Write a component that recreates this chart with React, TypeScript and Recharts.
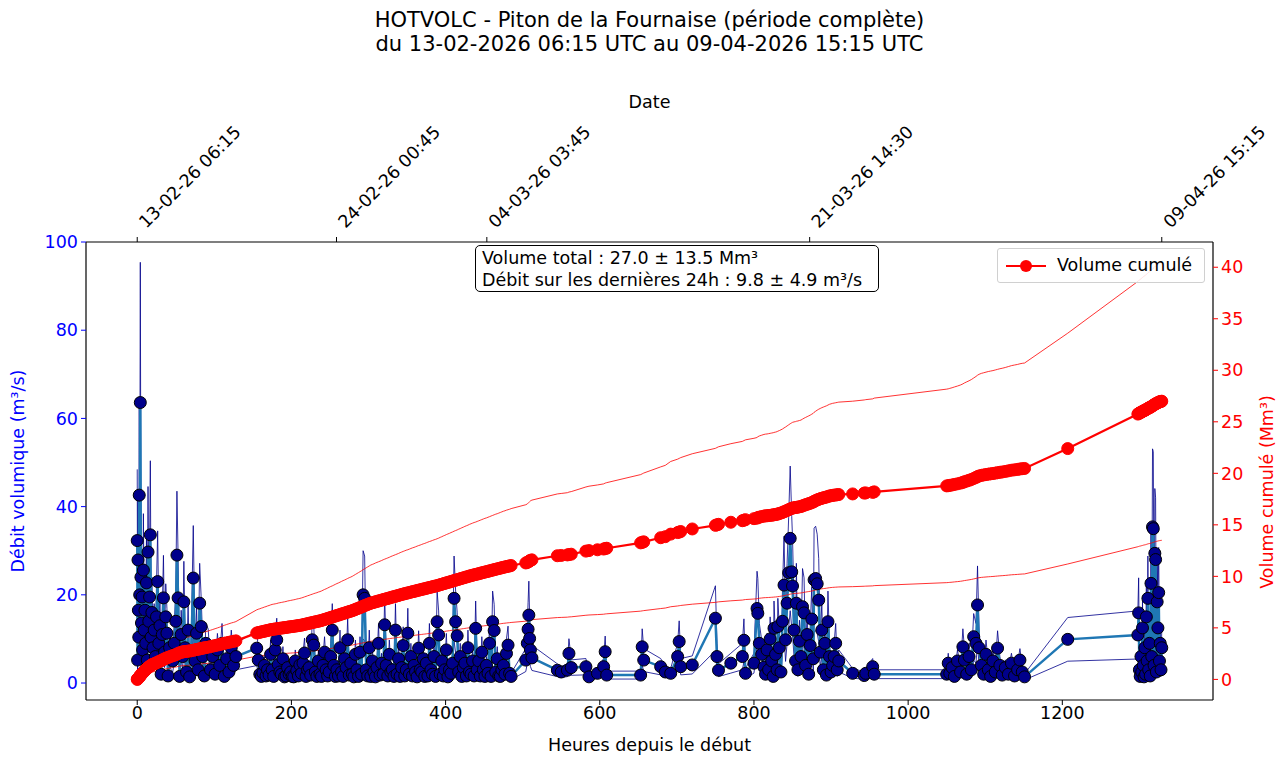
import { ComposedChart, Line, XAxis, YAxis } from 'recharts'

// Heures depuis le début (13-02-2026 06:15 UTC) de chaque mesure.
const hours = [
  0, 0.5, 1, 1.5, 2, 2.6, 3.2, 4, 4.8, 5.5, 6.3, 7, 8, 9, 10, 11, 12, 13, 14, 15, 16, 17, 18, 19,
  20.5, 22, 23.5, 25, 26.5, 28, 29.5, 31, 32.5, 34, 35.5, 37, 38.5, 40, 42, 44,
  46, 48, 50, 51.5, 53, 55, 57, 59, 60.5, 62, 64, 66, 68, 70, 72.7, 75, 77, 79, 81, 83, 85, 87, 89,
  92, 95, 98, 101, 104, 107, 110, 113, 116, 119, 122, 125, 128,
  155, 157, 159, 161, 163, 165, 167, 169, 171, 173,
  175, 177, 179, 181, 183, 185, 187, 189, 191, 193,
  195, 197, 199, 201, 203, 205, 207, 209, 211, 213,
  215, 217, 219, 221, 223, 225, 227, 229, 231, 233,
  235, 237, 239, 241, 243, 245, 247, 249, 251, 253,
  255, 257, 259, 261, 263, 265, 267, 269, 271, 273,
  275, 277, 279, 281, 283, 285, 287, 289, 291, 293,
  295, 297, 299, 301, 303, 305, 307, 309, 311, 313,
  315, 317, 319, 321, 323, 325, 327, 329, 331, 333,
  335, 337, 339, 341, 343, 345, 347, 349, 351, 353,
  355, 357, 359, 361, 363, 365, 367, 369, 371, 373,
  375, 377, 379, 381, 383, 385, 387, 389, 391, 393,
  395, 397, 399, 401, 403, 405, 407, 409, 411, 413,
  415, 417, 419, 421, 423, 425, 427, 429, 431, 433,
  435, 437, 439, 441, 443, 445, 447, 449, 451, 453,
  455, 457, 459, 461, 463, 465, 467, 469, 471, 473,
  475, 477, 479, 481, 483, 485,
  504, 506, 507, 508, 509, 510, 512,
  545, 550, 558, 560, 563, 582, 586, 597, 605, 607, 609, 653, 655, 657, 679, 685, 692, 701, 703, 705,
  720, 750, 752, 754, 770, 785, 787, 789, 800, 804, 805, 807, 810, 813,
  815, 817, 819, 821, 823, 825, 826, 828, 830, 831, 833, 835, 837, 839, 841, 843, 845, 847, 849, 850,
  852, 854, 855, 857, 859, 861, 863, 865, 867, 869, 871, 873, 875, 877, 878, 880, 882, 884, 886, 888,
  890, 892, 894, 896, 898, 900, 902, 904, 906, 908, 910,
  928, 943, 945, 954, 956,
  1050, 1052, 1054, 1057, 1060, 1064, 1068, 1071, 1073, 1076, 1079, 1082, 1085, 1088, 1090, 1092, 1095,
  1098, 1101, 1104, 1107, 1110, 1113, 1116, 1119, 1122, 1126, 1130, 1134, 1138, 1142, 1145, 1148, 1151,
  1207,
  1298, 1299, 1300, 1301, 1302, 1303, 1304, 1305, 1306, 1307, 1308, 1309, 1310, 1311, 1312, 1313,
  1314, 1315, 1316, 1317, 1318, 1319, 1320, 1321, 1322, 1323, 1324, 1325, 1326, 1327, 1328, 1329,
]

// Débit volumique (m³/s).
const flowRate = [
  32.3, 5.2, 27.9, 16.5, 10.4, 42.6, 20, 63.6, 24, 13.6, 19.5, 7.5, 25.6, 12, 16.5, 9, 22.7, 5.2, 29.7, 14, 19.5, 33.6, 10.4, 16,
  8, 12, 6, 15, 23, 9, 13, 2, 11, 19.3, 7, 15, 11.3, 1.6, 8, 6,
  5, 9, 14, 29, 19.3, 1.5, 11, 6, 18.4, 8, 2.5, 12, 1.4, 7, 23.8, 5, 11.3, 3, 18.1, 12.8, 6, 1.6, 9,
  8.2, 3, 6, 2, 7.5, 4, 9, 1.5, 5.5, 2.5, 8, 4, 6,
  7.9, 5.2, 2.0, 1.5, 2.3, 4.0, 1.6, 3.0, 1.8, 6.5,
  3.0, 1.5, 7.5, 9.8, 4.2, 2.5, 2.0, 5.5, 1.4, 1.6,
  3.5, 2.0, 2.5, 1.5, 1.4, 5.0, 2.8, 1.6, 4.1, 2.2,
  4.5, 6.8, 1.5, 3.0, 3.5, 1.8, 9.8, 8.6, 2.5, 1.5,
  5.0, 2.0, 1.5, 4.0, 7.0, 3.0, 1.6, 2.5, 6.0, 12.0,
  4.0, 1.5, 3.0, 1.6, 8.0, 2.5, 1.5, 5.5, 3.5, 9.8,
  1.8, 4.5, 2.0, 1.4, 6.5, 3.0, 1.5, 7.0, 2.0, 20.0,
  19.2, 3.0, 1.6, 8.0, 1.5, 5.0, 2.5, 1.4, 3.5, 9.0,
  1.8, 4.5, 2.0, 13.2, 4.0, 1.6, 6.5, 2.5, 3.0, 1.5,
  12.0, 2.0, 5.5, 1.5, 3.5, 8.5, 1.6, 3.0, 11.3, 2.0,
  6.0, 1.6, 4.0, 2.5, 1.4, 7.9, 3.0, 2.5, 5.5, 1.5,
  4.5, 1.6, 9.0, 3.0, 2.0, 6.0, 1.5, 13.9, 10.9, 2.0,
  5.0, 1.6, 3.0, 7.5, 1.4, 3.0, 2.2, 4.5, 19.2, 13.9,
  10.7, 2.5, 6.0, 1.5, 3.5, 4.5, 1.6, 8.0, 2.5, 2.0,
  5.0, 1.6, 12.4, 3.0, 5.0, 1.6, 7.0, 3.0, 1.5, 4.0,
  2.2, 9.0, 1.5, 13.9, 11.9, 2.5, 5.5, 1.6, 1.5, 3.0,
  4.0, 2.0, 6.7, 8.6, 2.2, 1.5,
  5.2, 9.0, 12.2, 15.4, 10.1, 7.5, 5.7,
  2.9, 2.5, 2.9, 6.7, 3.5, 3.7, 1.4, 2.2, 3.7, 7.1, 1.8, 1.8, 8.2, 5.2, 3.7, 2.5, 2.2, 6.0, 9.4, 3.7,
  4.1, 14.7, 6.0, 2.9, 4.5, 6.0, 9.7, 2.2, 4.5, 16.9, 15.8, 9.0, 6.5, 3.6,
  2.0, 7.5, 3.0, 10.0, 5.0, 1.5, 12.4, 6.5, 3.0, 12.8, 8.0, 2.5, 14.0, 22.2, 9.8, 18.1, 25.0, 32.8, 25.2, 22.0,
  12.0, 5.0, 18.1, 3.0, 9.5, 6.0, 17.3, 15.9, 4.0, 11.0, 2.0, 8.5, 14.5, 5.5, 23.4, 23.7, 22.5, 18.8, 7.0, 12.0,
  3.0, 9.0, 1.8, 13.9, 6.0, 2.5, 4.0, 6.0, 9.0, 3.0, 5.0,
  2.2, 1.7, 2.2, 3.7, 2.0,
  2.0, 4.5, 2.2, 3.5, 1.5, 5.0, 2.5, 8.2, 5.2, 2.0, 6.0, 3.0, 10.5, 9.0, 17.7, 8.0, 4.0,
  2.0, 6.5, 3.0, 1.5, 5.0, 2.5, 7.9, 4.0, 1.8, 3.5, 2.0, 4.5, 1.6, 3.0, 5.2, 2.5, 1.4,
  9.9,
  10.9, 15.9, 3.0, 1.5, 6.0, 2.5, 12.5, 4.0, 1.4, 8.0, 2.0, 15.0, 5.0, 19.2, 3.0, 9.0,
  1.6, 22.6, 6.0, 35.4, 35.0, 4.0, 29.4, 28.0, 2.5, 18.4, 12.5, 20.5, 5.0, 9.0, 3.0, 8.0,
]

// Volume cumulé (Mm³).
const cumulVolume = [
  0, 0.04, 0.08, 0.12, 0.17, 0.23, 0.29, 0.36, 0.43, 0.5, 0.57, 0.62, 0.7, 0.78, 0.86, 0.93, 1.0, 1.07, 1.14, 1.2, 1.26, 1.32, 1.38, 1.43,
  1.47, 1.51, 1.56, 1.61, 1.67, 1.72, 1.77, 1.82, 1.88, 1.94, 1.99, 2.04, 2.09, 2.13, 2.19, 2.25,
  2.3, 2.35, 2.4, 2.45, 2.52, 2.58, 2.63, 2.66, 2.69, 2.71, 2.72, 2.74, 2.76, 2.78, 2.82, 2.87, 2.9, 2.93, 2.96, 3.0, 3.03, 3.06, 3.09,
  3.13, 3.18, 3.23, 3.28, 3.33, 3.38, 3.44, 3.5, 3.55, 3.6, 3.65, 3.69, 3.74,
  4.50, 4.54, 4.57, 4.61, 4.64, 4.68, 4.71, 4.75, 4.78, 4.82,
  4.85, 4.87, 4.89, 4.91, 4.94, 4.96, 4.98, 5.00, 5.02, 5.04,
  5.07, 5.09, 5.11, 5.13, 5.15, 5.17, 5.20, 5.22, 5.24, 5.27,
  5.30, 5.34, 5.37, 5.41, 5.44, 5.48, 5.51, 5.55, 5.58, 5.61,
  5.65, 5.68, 5.72, 5.77, 5.82, 5.86, 5.91, 5.96, 6.01, 6.05,
  6.10, 6.15, 6.20, 6.24, 6.29, 6.34, 6.39, 6.43, 6.48, 6.53,
  6.58, 6.62, 6.67, 6.73, 6.79, 6.85, 6.91, 6.97, 7.03, 7.10,
  7.16, 7.22, 7.28, 7.34, 7.40, 7.44, 7.48, 7.53, 7.57, 7.61,
  7.65, 7.69, 7.74, 7.78, 7.82, 7.86, 7.90, 7.95, 7.99, 8.03,
  8.07, 8.11, 8.15, 8.20, 8.24, 8.28, 8.32, 8.36, 8.39, 8.43,
  8.47, 8.51, 8.54, 8.58, 8.62, 8.66, 8.69, 8.73, 8.77, 8.80,
  8.84, 8.88, 8.92, 8.95, 8.99, 9.03, 9.06, 9.10, 9.14, 9.19,
  9.23, 9.28, 9.32, 9.37, 9.41, 9.45, 9.50, 9.54, 9.59, 9.63,
  9.67, 9.72, 9.76, 9.81, 9.85, 9.90, 9.94, 9.98, 10.03, 10.07,
  10.11, 10.15, 10.18, 10.22, 10.26, 10.30, 10.34, 10.38, 10.42, 10.45,
  10.49, 10.53, 10.57, 10.61, 10.65, 10.69, 10.72, 10.76, 10.80, 10.84,
  10.88, 10.91, 10.95, 10.98, 11.01, 11.05,
  11.3, 11.35, 11.4, 11.45, 11.5, 11.55, 11.6,
  12.0, 12.03, 12.08, 12.12, 12.15, 12.45, 12.5, 12.58, 12.65, 12.7, 12.73, 13.25, 13.3, 13.35, 13.75, 13.85, 14.1, 14.25, 14.3, 14.35,
  14.6, 14.95, 15.0, 15.05, 15.25, 15.4, 15.45, 15.5, 15.6, 15.65, 15.7, 15.75, 15.8, 15.85,
  15.87, 15.88, 15.9, 15.92, 15.94, 15.96, 15.98, 16.0, 16.03, 16.06, 16.1, 16.15, 16.2, 16.27, 16.33, 16.4, 16.47, 16.54, 16.6, 16.63,
  16.66, 16.68, 16.7, 16.72, 16.75, 16.78, 16.84, 16.9, 16.95, 17.0, 17.05, 17.1, 17.16, 17.22, 17.28, 17.35, 17.42, 17.48, 17.53, 17.58,
  17.62, 17.66, 17.7, 17.75, 17.8, 17.83, 17.86, 17.88, 17.9, 17.92, 17.94,
  18.0, 18.08, 18.1, 18.15, 18.2,
  18.78, 18.8, 18.83, 18.87, 18.92, 18.98, 19.05, 19.12, 19.18, 19.25, 19.32, 19.4, 19.5, 19.6, 19.68, 19.74, 19.8,
  19.84, 19.88, 19.92, 19.95, 19.98, 20.02, 20.06, 20.1, 20.13, 20.18, 20.24, 20.3, 20.34, 20.38, 20.42, 20.45, 20.47,
  22.4,
  25.75, 25.8, 25.85, 25.88, 25.92, 25.96, 26.0, 26.05, 26.08, 26.12, 26.15, 26.2, 26.25, 26.3, 26.34, 26.37,
  26.4, 26.45, 26.5, 26.55, 26.6, 26.65, 26.7, 26.75, 26.78, 26.82, 26.86, 26.9, 26.93, 26.96, 26.98, 27.0,
]

// Incertitude relative (± 50 %), cf. « 27.0 ± 13.5 Mm³ ».
const UNCERTAINTY = 0.5

const hourTicks = [0, 200, 400, 600, 800, 1000, 1200]
const flowTicks = [0, 20, 40, 60, 80, 100]
const volumeTicks = [0, 5, 10, 15, 20, 25, 30, 35, 40]
const dateTickHours = [0, 258.5, 453.5, 872.25, 1329]
const dateTickLabels = ['13-02-26 06:15', '24-02-26 00:45', '04-03-26 03:45', '21-03-26 14:30', '09-04-26 15:15']

const rows = hours.map((h, i) => ({
  h,
  flow: flowRate[i],
  flowLo: flowRate[i] * (1 - UNCERTAINTY),
  flowHi: flowRate[i] * (1 + UNCERTAINTY),
  vol: cumulVolume[i],
  volLo: cumulVolume[i] * (1 - UNCERTAINTY),
  volHi: cumulVolume[i] * (1 + UNCERTAINTY),
}))

const FONT = '"DejaVu Sans", sans-serif'
const FS = 17.5

function DateTick(props: any) {
  const { x, y, payload } = props
  const idx = dateTickHours.findIndex((v) => Math.abs(v - payload.value) < 0.01)
  const ax = x + 9
  const ay = y - 8
  return (
    <text x={ax} y={ay} transform={`rotate(-45, ${ax}, ${ay})`} fontSize={FS} fill="#000" textAnchor="start" fontFamily={FONT}>
      {dateTickLabels[idx]}
    </text>
  )
}

const abs = (s: React.CSSProperties): React.CSSProperties => ({ position: 'absolute', whiteSpace: 'nowrap', ...s })

export default function App() {
  return (
    <div style={{ position: 'relative', width: 1281, height: 758, fontFamily: FONT, background: '#fff' }}>
      <style>{'body{margin:0}'}</style>
      <ComposedChart width={1281} height={758} data={rows} margin={{ top: 182, right: 8, bottom: 28, left: 26 }}>
        <XAxis
          xAxisId="bottom"
          dataKey="h"
          type="number"
          domain={[-66.45, 1395.45]}
          allowDataOverflow
          ticks={hourTicks}
          height={30}
          tickSize={5}
          tickMargin={2}
          axisLine={{ stroke: '#000', strokeWidth: 1.2 }}
          tickLine={{ stroke: '#000' }}
          tick={{ fill: '#000', fontSize: FS, fontFamily: FONT }}
        />
        <XAxis
          xAxisId="top"
          orientation="top"
          dataKey="h"
          type="number"
          domain={[-66.45, 1395.45]}
          allowDataOverflow
          ticks={dateTickHours}
          height={60}
          tickSize={5}
          tickMargin={0}
          axisLine={{ stroke: '#000', strokeWidth: 1.2 }}
          tickLine={{ stroke: '#000' }}
          tick={<DateTick />}
          interval={0}
        />
        <YAxis
          yAxisId="left"
          type="number"
          domain={[-3.85, 100]}
          allowDataOverflow
          ticks={flowTicks}
          width={60}
          tickSize={5}
          tickMargin={3}
          axisLine={{ stroke: '#000', strokeWidth: 1.2 }}
          tickLine={{ stroke: '#0000ff' }}
          tick={{ fill: '#0000ff', fontSize: FS, fontFamily: FONT }}
        />
        <YAxis
          yAxisId="right"
          orientation="right"
          type="number"
          domain={[-2.0, 42.45]}
          allowDataOverflow
          ticks={volumeTicks}
          width={60}
          tickSize={5}
          tickMargin={3}
          axisLine={{ stroke: '#000', strokeWidth: 1.2 }}
          tickLine={{ stroke: '#ff0000' }}
          tick={{ fill: '#ff0000', fontSize: FS, fontFamily: FONT }}
        />

        <Line xAxisId="bottom" yAxisId="left" dataKey="flowHi" stroke="#00008b" strokeOpacity={0.8} strokeWidth={1} dot={false} activeDot={false} isAnimationActive={false} />
        <Line xAxisId="bottom" yAxisId="left" dataKey="flowLo" stroke="#00008b" strokeOpacity={0.8} strokeWidth={1} dot={false} activeDot={false} isAnimationActive={false} />
        <Line
          xAxisId="bottom"
          yAxisId="left"
          dataKey="flow"
          stroke="#1f77b4"
          strokeWidth={2.5}
          dot={{ r: 6, fill: '#00008b', stroke: '#000', strokeWidth: 1 }}
          activeDot={false}
          isAnimationActive={false}
        />

        <Line xAxisId="bottom" yAxisId="right" dataKey="volHi" stroke="#ff0000" strokeOpacity={0.8} strokeWidth={1} dot={false} activeDot={false} isAnimationActive={false} />
        <Line xAxisId="bottom" yAxisId="right" dataKey="volLo" stroke="#ff0000" strokeOpacity={0.8} strokeWidth={1} dot={false} activeDot={false} isAnimationActive={false} />
        <Line
          xAxisId="bottom"
          yAxisId="right"
          dataKey="vol"
          stroke="#ff0000"
          strokeWidth={2.2}
          dot={{ r: 6, fill: '#ff0000', stroke: '#ff0000', strokeWidth: 1 }}
          activeDot={false}
          isAnimationActive={false}
        />
      </ComposedChart>

      <div style={abs({ left: 0, width: 1299, top: 8, textAlign: 'center', fontSize: 21, lineHeight: '24px' })}>
        HOTVOLC - Piton de la Fournaise (période complète)
        <br />
        du 13-02-2026 06:15 UTC au 09-04-2026 15:15 UTC
      </div>
      <div style={abs({ left: 0, width: 1299, top: 92, textAlign: 'center', fontSize: FS })}>Date</div>
      <div style={abs({ left: 0, width: 1299, top: 735, textAlign: 'center', fontSize: FS })}>Heures depuis le début</div>
      <div style={abs({ left: 18, top: 471, fontSize: FS, color: '#0000ff', transform: 'translate(-50%, -50%) rotate(-90deg)' })}>
        Débit volumique (m³/s)
      </div>
      <div style={abs({ left: 1267, top: 492, fontSize: FS, color: '#ff0000', transform: 'translate(-50%, -50%) rotate(-90deg)' })}>
        Volume cumulé (Mm³)
      </div>

      <div
        style={abs({
          left: 475,
          top: 245,
          width: 404,
          height: 47,
          border: '1.3px solid #000',
          borderRadius: 5,
          background: '#fff',
          fontSize: FS,
          lineHeight: '22px',
          padding: '1px 0 0 6px',
          boxSizing: 'border-box',
        })}
      >
        Volume total : 27.0 ± 13.5 Mm³
        <br />
        Débit sur les dernières 24h : 9.8 ± 4.9 m³/s
      </div>

      <div
        style={abs({
          left: 997,
          top: 248,
          width: 208,
          height: 35,
          border: '1px solid #d0d0d0',
          borderRadius: 3,
          background: 'rgba(255,255,255,0.85)',
          fontSize: FS,
          boxSizing: 'border-box',
        })}
      >
        <svg width={50} height={33} style={{ position: 'absolute', left: 6, top: 0 }}>
          <line x1={2} y1={17} x2={42} y2={17} stroke="#ff0000" strokeWidth={2.2} />
          <circle cx={22} cy={17} r={6} fill="#ff0000" />
        </svg>
        <span style={{ position: 'absolute', left: 59, top: 6 }}>Volume cumulé</span>
      </div>
    </div>
  )
}
